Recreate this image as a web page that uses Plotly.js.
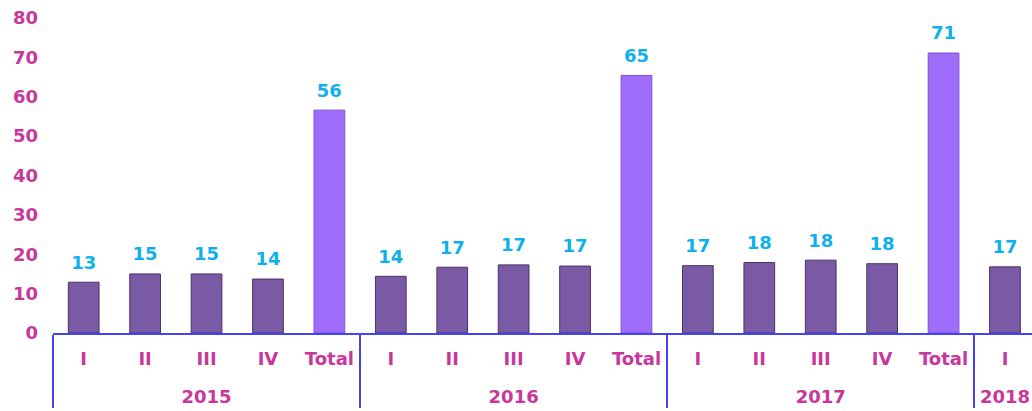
<!DOCTYPE html>
<html>
<head>
<meta charset="utf-8">
<script src="https://cdn.plot.ly/plotly-3.0.1.min.js"></script>
<style>
html,body{margin:0;padding:0;background:#fff;overflow:hidden;}
#chart{width:1032px;height:411px;}
</style>
</head>
<body>
<div id="chart"></div>
<script>
// Data
const years    = ["2015","2015","2015","2015","2015","2016","2016","2016","2016","2016","2017","2017","2017","2017","2017","2018"];
const quarters = ["I","II","III","IV","Total","I","II","III","IV","Total","I","II","III","IV","Total","I"];
const values   = [12.9, 15.0, 15.0, 13.7, 56.6, 14.4, 16.7, 17.3, 17.0, 65.4, 17.1, 17.9, 18.5, 17.6, 71.1, 16.8];
const labels   = ["13","15","15","14","56","14","17","17","17","65","17","18","18","18","71","17"];
const yTicks   = [0,10,20,30,40,50,60,70,80];

const magenta = "#c8379b";
const cyan = "#0fb0ee";
const fontFam = "DejaVu Sans";

// year row pushed one line lower, as in the reference
const yearCats = years.map(y => "<br>" + y);
const xCats = [yearCats, quarters];

const barColors = quarters.map(q => q === "Total" ? "#9f6cfb" : "#7b5aa5");
const lineColors = quarters.map(q => q === "Total" ? "#7f50d0" : "#4a3368");

const bars = {
  type: "bar",
  x: xCats,
  y: values,
  width: 0.5,
  marker: {color: barColors, line: {color: lineColors, width: 1}},
  hoverinfo: "skip"
};

const texts = {
  type: "scatter",
  mode: "markers+text",
  x: xCats,
  y: values,
  text: labels,
  textposition: "top center",
  textfont: {family: fontFam, size: 18, color: cyan, weight: "bold"},
  marker: {size: 13, color: "rgba(0,0,0,0)"},
  hoverinfo: "skip",
  cliponaxis: false
};

const layout = {
  width: 1032,
  height: 411,
  margin: {l: 53, r: 0, t: 18, b: 78, pad: 0},
  paper_bgcolor: "#ffffff",
  plot_bgcolor: "#ffffff",
  showlegend: false,
  xaxis: {
    type: "multicategory",
    range: [-0.5, 15.44],
    showline: true,
    linecolor: "#4343f5",
    linewidth: 2,
    showgrid: false,
    zeroline: false,
    showdividers: true,
    dividercolor: "#4343f5",
    dividerwidth: 2,
    ticks: "",
    ticklabelstandoff: 8,
    tickfont: {family: fontFam, size: 18, color: magenta, weight: "bold"}
  },
  yaxis: {
    range: [0, 80],
    tickvals: yTicks,
    ticktext: yTicks.map(String),
    showgrid: false,
    zeroline: false,
    showline: false,
    ticks: "",
    ticklabelstandoff: 14,
    tickfont: {family: fontFam, size: 18, color: magenta, weight: "bold"}
  }
};

Plotly.newPlot("chart", [bars, texts], layout, {displayModeBar: false, staticPlot: true});
</script>
</body>
</html>
